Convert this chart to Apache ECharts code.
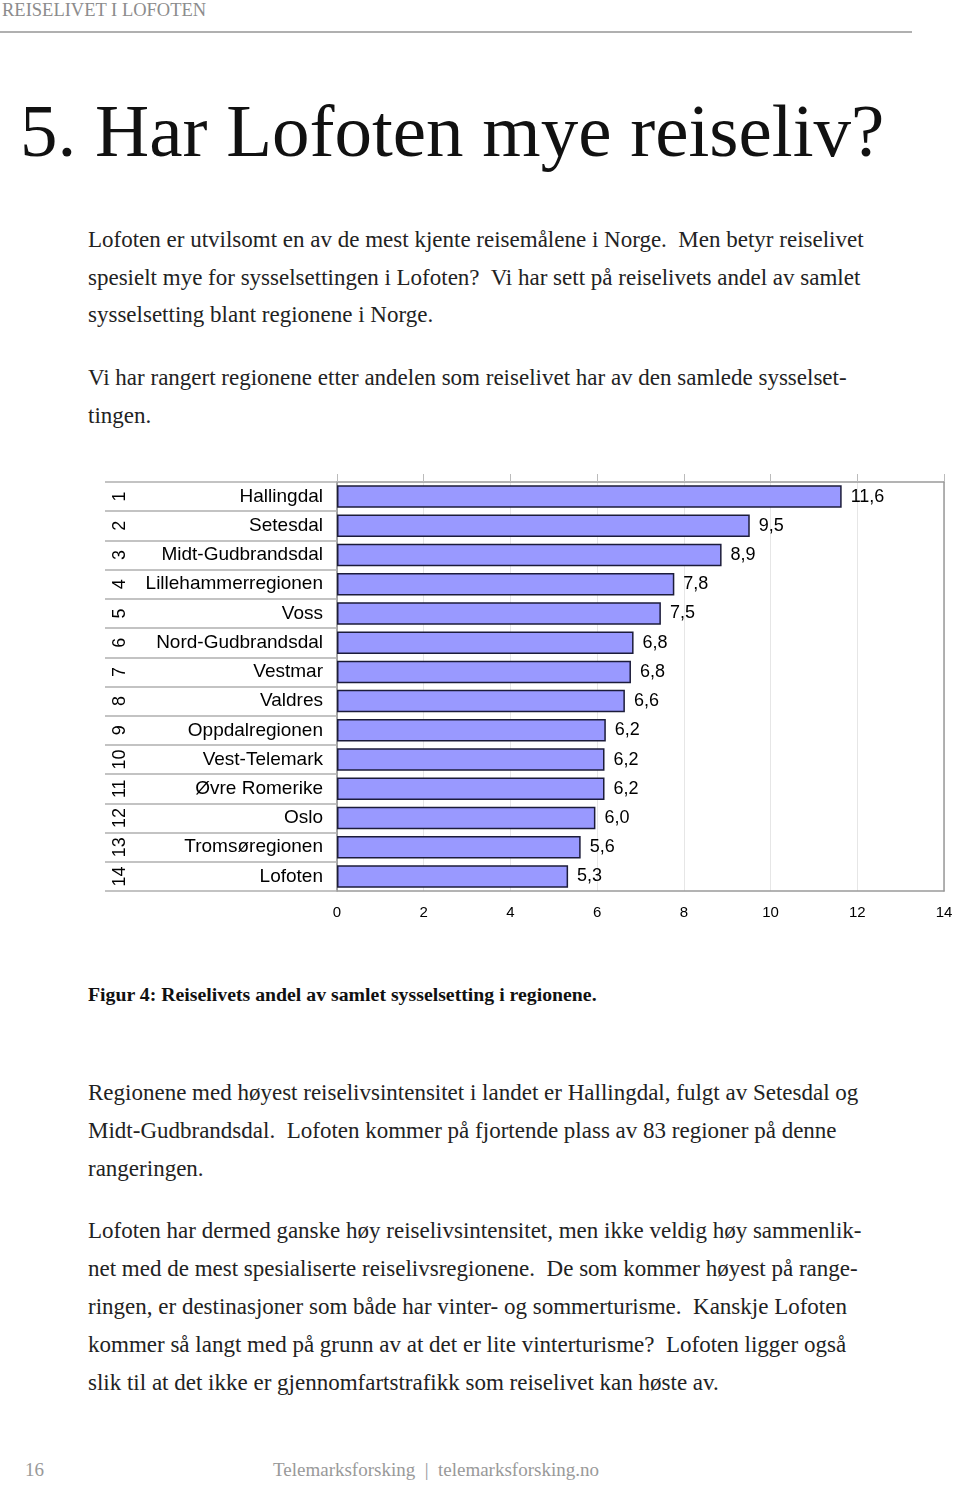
<!DOCTYPE html>
<html>
<head>
<meta charset="utf-8">
<script src="https://cdn.jsdelivr.net/npm/echarts@6/dist/echarts.min.js"></script>
<style>
  html, body { margin: 0; padding: 0; background: #fff; }
  body { width: 960px; height: 1485px; position: relative; overflow: hidden; font-family: "Liberation Serif", "DejaVu Serif", serif; }
  .abs { position: absolute; white-space: pre; }
  .hdr { left: 2px; top: 0px; font-size: 18.5px; color: #8c8c8c; line-height: 20px; }
  .rule { left: 0; top: 31px; width: 912px; height: 2px; background: #b0b0b0; }
  .title { left: 20px; top: 86px; font-size: 75px; color: #111; line-height: 90px; }
  .p { left: 88px; font-size: 23px; color: #222; line-height: 37.5px; }
  .cap { left: 88px; top: 981px; font-size: 19.8px; font-weight: bold; color: #111; line-height: 26px; }
  .foot { font-size: 19px; color: #999; line-height: 24px; top: 1458px; }
  #chart { position: absolute; left: 0; top: 440px; width: 960px; height: 500px; }
</style>
</head>
<body>
<div class="abs hdr">REISELIVET I LOFOTEN</div>
<div class="abs rule"></div>
<div class="abs title">5. Har Lofoten mye reiseliv?</div>
<div class="abs p" style="top:221px">Lofoten er utvilsomt en av de mest kjente reisemålene i Norge.  Men betyr reiselivet
spesielt mye for sysselsettingen i Lofoten?  Vi har sett på reiselivets andel av samlet
sysselsetting blant regionene i Norge.</div>
<div class="abs p" style="top:359px">Vi har rangert regionene etter andelen som reiselivet har av den samlede sysselset-
tingen.</div>
<div id="chart"></div>
<div class="abs cap">Figur 4: Reiselivets andel av samlet sysselsetting i regionene.</div>
<div class="abs p" style="top:1074px; line-height:38px">Regionene med høyest reiselivsintensitet i landet er Hallingdal, fulgt av Setesdal og
Midt-Gudbrandsdal.  Lofoten kommer på fjortende plass av 83 regioner på denne
rangeringen.</div>
<div class="abs p" style="top:1212px; line-height:38px">Lofoten har dermed ganske høy reiselivsintensitet, men ikke veldig høy sammenlik-
net med de mest spesialiserte reiselivsregionene.  De som kommer høyest på range-
ringen, er destinasjoner som både har vinter- og sommerturisme.  Kanskje Lofoten
kommer så langt med på grunn av at det er lite vinterturisme?  Lofoten ligger også
slik til at det ikke er gjennomfartstrafikk som reiselivet kan høste av.</div>
<div class="abs foot" style="left:25px">16</div>
<div class="abs foot" style="left:273px">Telemarksforsking  |  telemarksforsking.no</div>

<script>
const categories = ["Hallingdal", "Setesdal", "Midt-Gudbrandsdal", "Lillehammerregionen", "Voss",
  "Nord-Gudbrandsdal", "Vestmar", "Valdres", "Oppdalregionen", "Vest-Telemark",
  "Øvre Romerike", "Oslo", "Tromsøregionen", "Lofoten"];
const ranks = ["1", "2", "3", "4", "5", "6", "7", "8", "9", "10", "11", "12", "13", "14"];
const values = [11.64, 9.52, 8.87, 7.78, 7.47, 6.84, 6.78, 6.64, 6.2, 6.17, 6.17, 5.96, 5.62, 5.33];
const xMin = 0, xMax = 14, xStep = 2;

const sans = "Liberation Sans, Arial, sans-serif";
const chart = echarts.init(document.getElementById('chart'), null, { renderer: 'canvas' });
chart.setOption({
  animation: false,
  grid: { left: 337, right: 16, top: 42, bottom: 49, containLabel: false },
  xAxis: [
    {
      type: 'value', min: xMin, max: xMax, interval: xStep, position: 'bottom',
      axisLine: { show: true, lineStyle: { color: '#9a9a9a', width: 1.5 } },
      axisTick: { show: false },
      splitLine: { show: true, lineStyle: { color: '#e6e6e6', width: 1 } },
      axisLabel: { fontFamily: sans, fontSize: 15, color: '#000', margin: 14 }
    },
    {
      type: 'value', min: xMin, max: xMax, interval: xStep, position: 'top',
      axisLine: { show: true, lineStyle: { color: '#9a9a9a', width: 1.5 } },
      axisTick: { show: true, length: 8, lineStyle: { color: '#bbbbbb', width: 1 } },
      splitLine: { show: false },
      axisLabel: { show: false }
    }
  ],
  yAxis: [
    {
      type: 'category', data: categories, inverse: true, position: 'left',
      axisLine: { show: true, lineStyle: { color: '#8a8a8a', width: 1.5 } },
      axisTick: { show: true, length: 232, lineStyle: { color: '#b0b0b0', width: 1.5 } },
      axisLabel: { fontFamily: sans, fontSize: 19, color: '#000', margin: 14 }
    },
    {
      type: 'category', data: ranks, inverse: true, position: 'left', offset: 200,
      axisLine: { show: false }, axisTick: { show: false },
      axisLabel: { fontFamily: sans, fontSize: 18, color: '#000', rotate: 90, margin: 8 }
    },
    {
      type: 'category', data: categories, inverse: true, position: 'right',
      axisLine: { show: true, lineStyle: { color: '#9a9a9a', width: 1.5 } },
      axisTick: { show: false }, axisLabel: { show: false }
    }
  ],
  series: [{
    type: 'bar', data: values, xAxisIndex: 0, yAxisIndex: 0,
    barCategoryGap: '23%',
    itemStyle: { color: '#9999ff', borderColor: '#1c1c3a', borderWidth: 1.5 },
    label: {
      show: true, position: 'right', distance: 9,
      fontFamily: sans, fontSize: 18, color: '#000',
      formatter: p => p.value.toFixed(1).replace('.', ',')
    }
  }]
});
</script>
</body>
</html>
